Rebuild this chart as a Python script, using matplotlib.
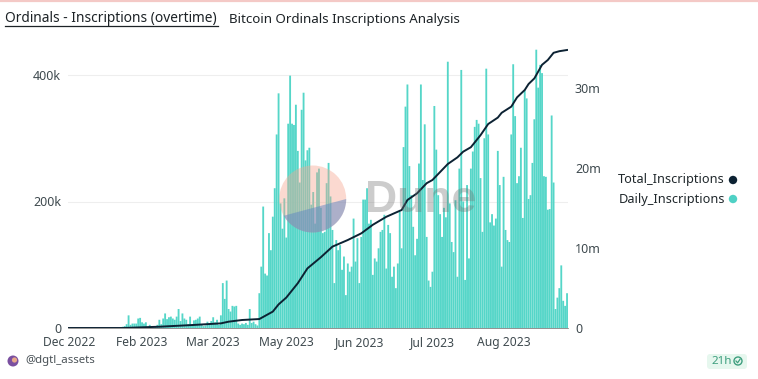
import numpy as np
import matplotlib
matplotlib.use("Agg")
import matplotlib.pyplot as plt
from matplotlib.patches import Circle, Polygon, FancyBboxPatch

plt.rcParams['font.family'] = ['Noto Sans', 'DejaVu Sans']

# daily inscriptions, thousands
daily_start = [0, 0, 0, 0, 0, 0, 0, 0, 0, 0, 0, 0, 0, 0, 0, 0, 0, 0, 0, 0, 0, 0, 0, 0, 0, 0, 0]
daily_low = [1, 2, 3, 6, 20, 5, 7, 7, 7, 15,
             16, 9, 7, 9, 2, 5, 1, 1, 3, 5,
             13, 6, 15, 23, 14, 17, 18, 15, 13, 18,
             30, 11, 23, 15, 13, 6, 18, 5, 12, 13,
             15, 18, 5, 3, 4, 10, 6, 11, 17, 9,
             13, 5, 20, 71, 46, 75, 30, 26, 35, 34,
             35, 7, 5, 7, 6, 8, 5, 30, 8, 10,
             6, 4]
daily_may = [55, 97, 192, 86, 83, 150, 123, 176, 221, 306,
             371, 197, 157, 205, 143, 323, 399, 323, 321, 353,
             280, 230, 345, 372, 265, 281, 285, 195, 215, 165,
             246, 252, 190, 150, 152, 229]
daily_jun = [261, 208, 155, 71, 139, 123, 131, 92, 113, 52,
             102, 89, 97, 173, 105, 142, 71, 144, 203, 203,
             221, 165, 171, 84, 110, 105, 126, 152, 155, 179,
             94, 163, 150, 81, 97, 63, 102, 184, 126, 286,
             350, 385]
daily_jul = [256, 210, 160, 115, 141, 260, 385, 234, 322, 144,
             75, 65, 89, 351, 282, 210, 180, 144, 190, 175,
             421, 197, 136, 120, 202, 81, 252, 408, 200, 76,
             226, 110, 252, 279, 318, 329, 323, 237, 152, 300]
daily_aug = [410, 306, 167, 180, 162, 173, 280, 226, 97, 239,
             155, 139, 136, 306, 417, 335, 229, 240, 285, 174,
             376, 363, 204, 210, 261, 330, 440, 380, 416, 403,
             240, 239, 187, 188, 336, 230, 30, 48, 63, 99,
             43, 35, 55]
daily = daily_start + daily_low + daily_may + daily_jun + daily_jul + daily_aug

# running total, millions, read at some days along the line
total_day = [0, 28, 47, 64, 79, 83, 90, 99, 106, 109, 113, 119, 124, 131, 137, 145, 152, 158, 165, 173, 176,
             181, 186, 189, 197, 202, 205, 209, 214, 218, 223, 225, 230, 233, 237, 239, 242, 246, 249, 252, 255, 259]
total_m = [0.0, 0.0, 0.16, 0.37, 0.58, 0.79, 1.0, 1.12, 2.05, 2.95, 3.8, 5.6, 7.45, 8.85, 10.17, 11.0, 11.83, 12.9,
           13.9, 14.75, 16.0, 16.83, 18.1, 18.5, 20.5, 21.33, 22.04, 22.6, 24.1, 25.5, 26.3, 26.9, 27.67, 28.83,
           29.75, 30.5, 31.2, 32.9, 33.5, 34.4, 34.6, 34.75]

tick_days = [0, 38, 75, 113, 151, 189, 226]
tick_labels = ["Dec 2022", "Feb 2023", "Mar 2023", "May 2023", "Jun 2023", "Jul 2023", "Aug 2023"]

TEAL = "#55d6c8"
DARK = "#0c2233"
GREY = "#3f4a4f"
W, H = 758, 379

fig = plt.figure(figsize=(W / 100, H / 100), dpi=100)
ax = fig.add_axes([68 / W, 1 - 328 / H, 500 / W, 284 / H])
days = np.arange(len(daily))
# no snapping, or the thin bars come out uneven
ax.bar(days, daily, width=0.96, color=TEAL, zorder=2, snap=False, lw=0)
ax.set_xlim(-0.5, len(daily) - 0.5)
ax.set_ylim(0, 284 / 126.5 * 200)
ax.set_yticks([0, 200, 400])
ax.set_yticklabels(["0", "200k", "400k"])
ax.set_xticks(tick_days)
ax.set_xticklabels(tick_labels)
ax.grid(axis="y", color="#eeeeee", lw=0.8)
ax.set_axisbelow(True)
ax.tick_params(length=0, labelsize=9, labelcolor=GREY)
ax.tick_params(axis="y", pad=5)
ax.tick_params(axis="x", pad=6, labelsize=8.7)
for s in ["top", "left", "right"]:
    ax.spines[s].set_visible(False)
ax.spines["bottom"].set_color("#666666")
ax.spines["bottom"].set_linewidth(0.5)

ax2 = ax.twinx()
ax2.plot(total_day, total_m, color=DARK, lw=1.4, zorder=3)
ax2.set_ylim(0, 35.5)
ax2.set_yticks([0, 10, 20, 30])
ax2.set_yticklabels(["0", "10m", "20m", "30m"])
ax2.tick_params(length=0, labelsize=9, labelcolor=GREY, pad=5)
for s in ax2.spines.values():
    s.set_visible(False)

# everything else sits on a pixel sized overlay
ov = fig.add_axes([0, 0, 1, 1], facecolor="none")
ov.set_xlim(0, W)
ov.set_ylim(H, 0)
ov.axis("off")

# top strip
ov.axhline(0.8, color="#f4c9c6", lw=1.6)

# title
ov.text(5, 19, "Ordinals - Inscriptions (overtime)", fontsize=9.9, color="#1c2226", va="center", fontweight="medium")
ov.plot([5, 218], [25.5, 25.5], color="#1c2226", lw=0.9)
ov.text(229, 19, "Bitcoin Ordinals Inscriptions Analysis", fontsize=9.6, color="#1c2226", va="center")

# legend
ov.text(725, 180, "Total_Inscriptions", fontsize=9.2, color="#20282c", ha="right", va="center")
ov.text(725, 199, "Daily_Inscriptions", fontsize=9.2, color="#20282c", ha="right", va="center")
ov.add_patch(Circle((733, 180), 4.2, color=DARK, lw=0))
ov.add_patch(Circle((733, 199), 4.2, color="#4fd1c5", lw=0))

# watermark
cx, cy, r = 312.7, 199, 33.5
ov.add_patch(Circle((cx, cy), r, color="#f6a68f", alpha=0.42, lw=0, zorder=5))
ang = np.radians(np.linspace(0, 150, 40))
ov.add_patch(Polygon(np.column_stack([cx + r * np.cos(ang), cy + r * np.sin(ang)]), closed=True,
                     color="#5f86c4", alpha=0.5, lw=0, zorder=6))
ov.text(365, 200, "Dune", fontsize=32, fontweight="bold", family="Liberation Sans", color="#6f6f6f", alpha=0.35,
        va="center", zorder=6)

# footer
ov.add_patch(Circle((13, 361), 5.5, color="#7a4fa0", lw=0))
ov.add_patch(Circle((14.5, 360), 2.6, color="#e8a88a", lw=0))
ov.text(25, 361, "@dgtl_assets", fontsize=8.2, color="#4a5257", va="center")
ov.add_patch(FancyBboxPatch((707, 354), 40, 15, boxstyle="round,pad=0,rounding_size=3", color="#e6f7ee", lw=0))
ov.text(711, 361.5, "21h", fontsize=8.4, color="#3f9f7f", va="center")
ov.add_patch(Circle((738, 361), 4, fill=False, ec="#3f9f7f", lw=1))
ov.plot([736, 737.6, 740], [361, 362.8, 359.3], color="#3f9f7f", lw=0.9)

fig.savefig("out.png", dpi=100)
